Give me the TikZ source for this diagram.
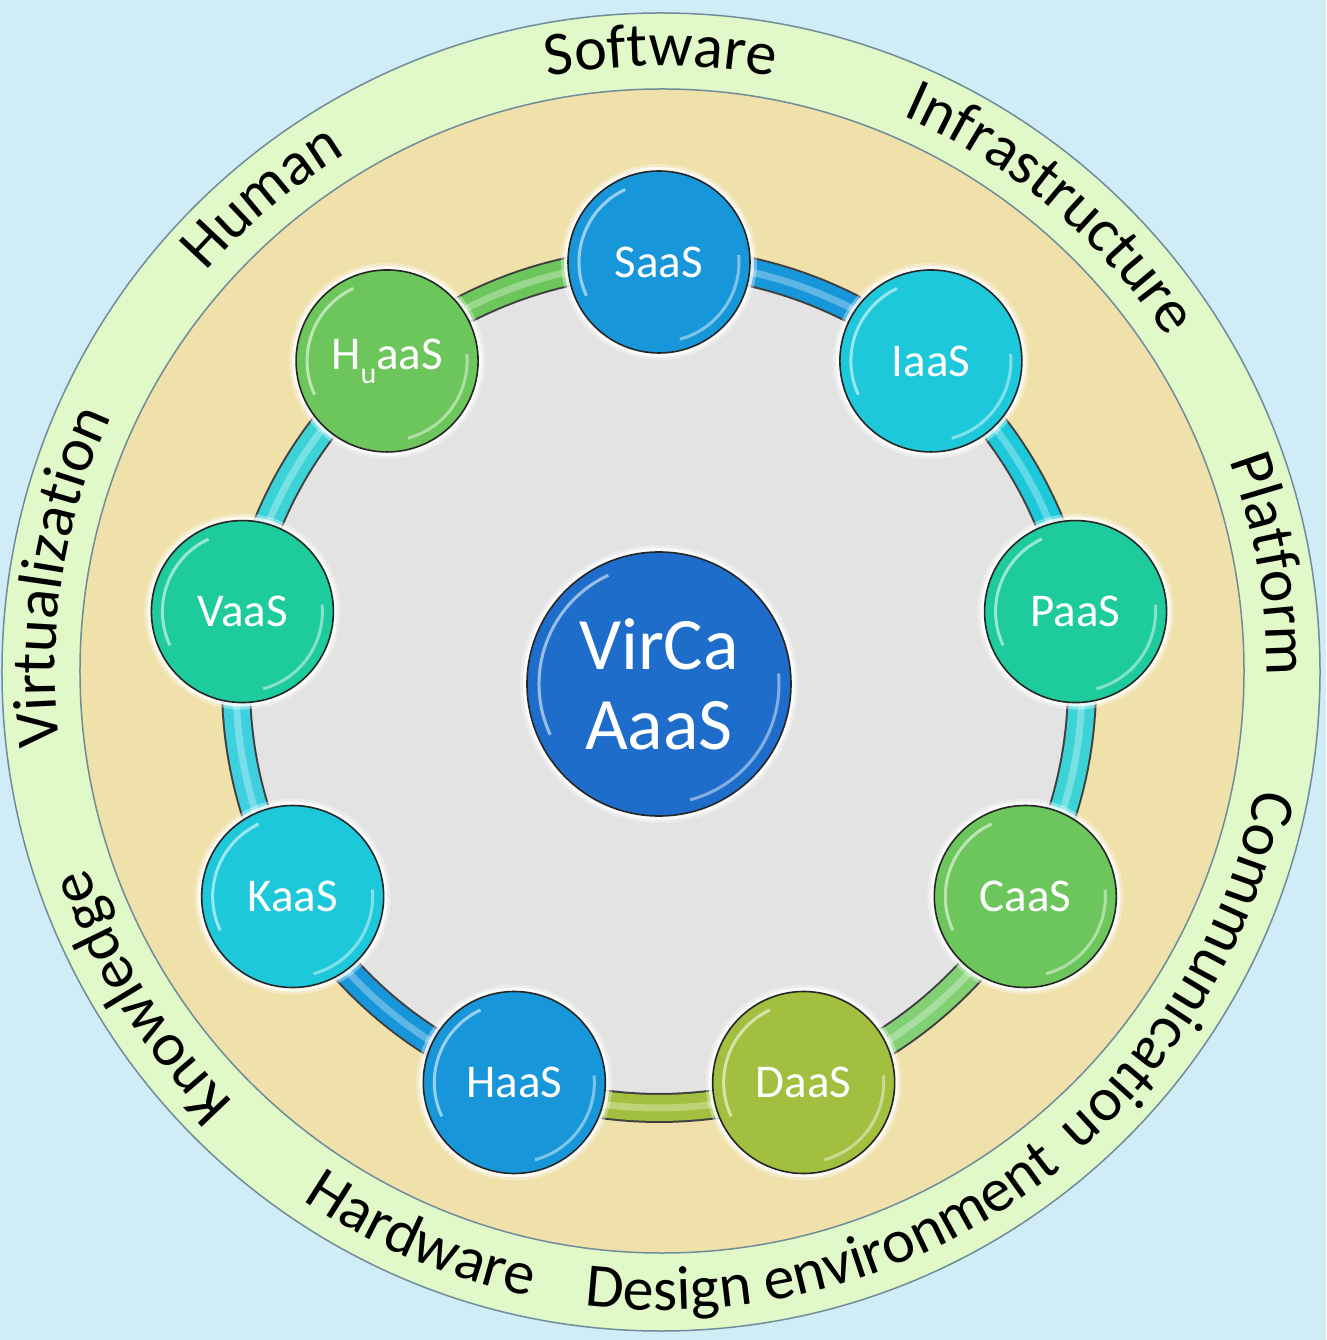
\documentclass[tikz,border=0pt]{standalone}
\usepackage{fontspec}
\setmainfont{Carlito}
\usetikzlibrary{decorations.text}
\pgfdeclarelayer{rings}
\pgfdeclarelayer{tubes}
\pgfsetlayers{rings,tubes,main}

\definecolor{skyback}{HTML}{D0ECF6}
\definecolor{outerring}{HTML}{E1F8C9}
\definecolor{ringedge}{HTML}{6F8C99}
\definecolor{sand}{HTML}{F0E0A9}
\definecolor{core}{HTML}{E3E3E3}
\definecolor{cblue}{HTML}{1797D9}
\definecolor{ccyan}{HTML}{1DC8DA}
\definecolor{cteal}{HTML}{1ECB9C}
\definecolor{cgreen}{HTML}{6CC65B}
\definecolor{colive}{HTML}{A2BF3F}
\definecolor{cdeep}{HTML}{1F6DCB}
\definecolor{caqua}{HTML}{3CD3D6}

\newcommand\ringfont{\fontsize{62}{62}\selectfont}
\newcommand\svcfont{\fontsize{47}{50}\selectfont}
\newcommand\hubfont{\fontsize{74}{80}\selectfont}

\tikzset{
  gloss/.style={path picture={
      \draw[white, opacity=.55, line width=3pt]
        ([shift={(115:#1)}]path picture bounding box.center)
        arc[start angle=115, end angle=205, radius=#1];
      \draw[white, opacity=.45, line width=3pt]
        ([shift={(-75:#1)}]path picture bounding box.center)
        arc[start angle=-75, end angle=5, radius=#1];
  }},
  halo/.style={
    preaction={draw=white, line width=14pt, opacity=.35},
    preaction={draw=white, line width=8pt, opacity=.75}},
  svc/.style={circle, minimum size=182pt, inner sep=0pt, fill=#1,
    draw=black!85, line width=1.6pt, text=white, font=\svcfont,
    halo, gloss=80pt},
  hub/.style={circle, minimum size=264pt, inner sep=0pt, fill=cdeep,
    draw=black!85, line width=1.6pt, text=white, font=\hubfont,
    align=center, halo, gloss=120pt},
  tubeedge/.style={line width=30pt, black!75},
  tubefill/.style={line width=26pt, #1},
  tubeshine/.style={line width=7pt, white, opacity=.3},
  ringlabel/.style={decorate, decoration={text along path, text align=center,
    text={|\ringfont|#1}}},
}

\begin{document}
\begin{tikzpicture}[x=1pt, y=1pt]
\useasboundingbox (-661,-668) rectangle (665,672);

\begin{pgfonlayer}{rings}
  \fill[skyback] (-661,-668) rectangle (665,672);
  \filldraw[fill=outerring, draw=ringedge, line width=1.5pt] (0,0) circle[radius=659pt];
  \filldraw[fill=sand, draw=ringedge, line width=1.5pt] (1,1) circle[radius=582pt];
  \fill[core] (-2,-13) circle[radius=423pt];

  % labels on the outer ring, clockwise (tops outward)
  \path[ringlabel=Software]       (130:606) arc[start angle=130, end angle=50,  radius=606pt];
  \path[ringlabel=Infrastructure] (95:606)  arc[start angle=95,  end angle=5,   radius=606pt];
  \path[ringlabel=Platform]       (50:606)  arc[start angle=50,  end angle=-30, radius=606pt];
  \path[ringlabel=Communication]  (15:606)  arc[start angle=15,  end angle=-75, radius=606pt];
  \path[ringlabel=Knowledge]      (-103:606) arc[start angle=-103, end angle=-193, radius=606pt];
  \path[ringlabel=Virtualization] (216:606) arc[start angle=216, end angle=126, radius=606pt];
  \path[ringlabel=Human]          (170:606) arc[start angle=170, end angle=90,  radius=606pt];
  % labels at the bottom, counter-clockwise (tops inward)
  \path[ringlabel=Hardware]           (-158:638) arc[start angle=-158, end angle=-68, radius=638pt];
  \path[ringlabel=Design environment] (-124:638) arc[start angle=-124, end angle=-24, radius=638pt];
\end{pgfonlayer}

\begin{scope}[shift={(-2,-13)}]
  \node[svc=cblue]  (saas)  at (90:423)   {SaaS};
  \node[svc=ccyan]  (iaas)  at (50:423)   {IaaS};
  \node[svc=cteal]  (paas)  at (10:423)   {PaaS};
  \node[svc=cgreen] (caas)  at (-30:423)  {CaaS};
  \node[svc=colive] (daas)  at (-70:423)  {DaaS};
  \node[svc=cblue]  (haas)  at (-110:423) {HaaS};
  \node[svc=ccyan]  (kaas)  at (-150:423) {KaaS};
  \node[svc=cteal]  (vaas)  at (170:423)  {VaaS};
  \node[svc=cgreen] (huaas) at (130:423)
    {H\raisebox{-.3em}{\fontsize{30}{30}\selectfont u}aaS};
  \node[hub] (virca) at (0,1) {VirCa\\AaaS};
\end{scope}

% ring of tubes joining the service circles
\begin{pgfonlayer}{tubes}
  \foreach \a/\b/\c in {saas/iaas/cblue, iaas/paas/ccyan, paas/caas/caqua,
      caas/daas/cgreen!85!white, daas/haas/colive, haas/kaas/cblue,
      kaas/vaas/ccyan!85!white, vaas/huaas/caqua, huaas/saas/cgreen}{
    \draw[tubeedge] (\a.center) to[bend left=20, looseness=.88] (\b.center);
    \draw[tubefill=\c] (\a.center) to[bend left=20, looseness=.88] (\b.center);
    \draw[tubeshine] (\a.center) to[bend left=20, looseness=.88] (\b.center);
  }
\end{pgfonlayer}
\end{tikzpicture}
\end{document}
